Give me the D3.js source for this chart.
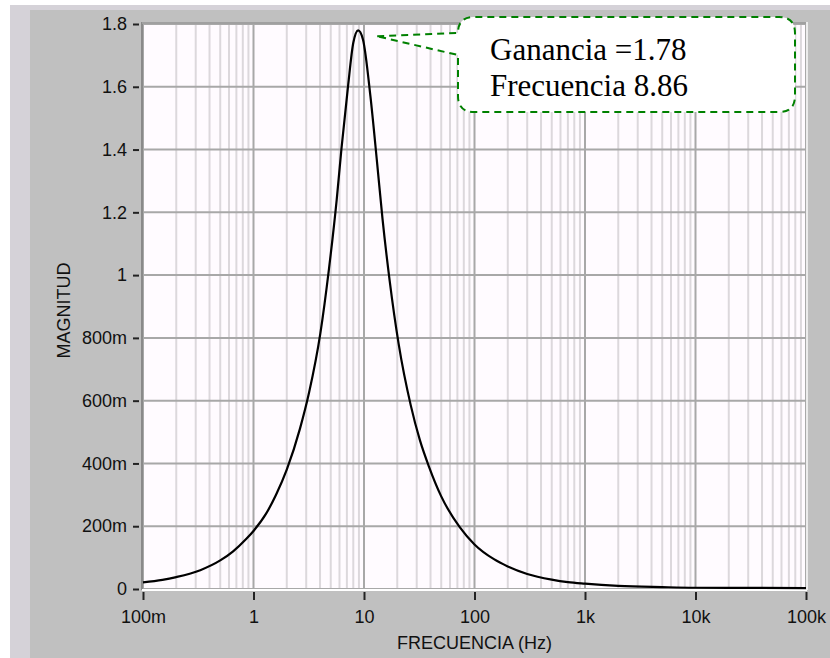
<!DOCTYPE html>
<html>
<head>
<meta charset="utf-8">
<script src="https://cdn.jsdelivr.net/npm/d3@7"></script>
<style>
html,body{margin:0;padding:0;background:#ffffff;}
svg{display:block;}
</style>
</head>
<body>
<svg id="chart" width="830" height="658"></svg>
<script>
// ---- data ----
const freqHz = [0.1,0.15,0.2,0.33,0.5,0.654,0.862,1.0,1.3,1.6,2.0,2.63,3.18,4.03,4.82,5.66,6.24,7.16,8.0,8.86,9.8,11.43,13.12,14.7,17.1,20.6,26.5,32,38.7,50,73.5,100,150,200,300,500,700,1000,2000,5000,10000,100000];
const magnitude = [0.021,0.029,0.038,0.060,0.091,0.12,0.16,0.185,0.24,0.30,0.38,0.51,0.625,0.815,1.02,1.24,1.40,1.60,1.74,1.78,1.75,1.57,1.36,1.18,0.98,0.78,0.585,0.475,0.39,0.295,0.197,0.142,0.095,0.072,0.048,0.030,0.022,0.017,0.010,0.006,0.004,0.003];
const xTickValues = [0.1,1,10,100,1000,10000,100000];
const xTickLabels = ["100m","1","10","100","1k","10k","100k"];
const yTickValues = [0,0.2,0.4,0.6,0.8,1.0,1.2,1.4,1.6,1.8];
const yTickLabels = ["0","200m","400m","600m","800m","1","1.2","1.4","1.6","1.8"];
const xTitle = "FRECUENCIA (Hz)";
const yTitle = "MAGNITUD";
const noteLines = ["Ganancia =1.78","Frecuencia 8.86"];
const peakFreq = 8.86, peakMag = 1.78;

(function(){
const svg = d3.select("#chart");
const W = 830, H = 658;
const pL = 143, pR = 806, pT = 24, pB = 589;

// frame / panel
svg.append("rect").attr("x",0).attr("y",0).attr("width",W).attr("height",H).attr("fill","#ffffff");
svg.append("rect").attr("x",10).attr("y",5).attr("width",W-10).attr("height",H-5).attr("fill","#d5d2d8");
svg.append("rect").attr("x",30).attr("y",10).attr("width",W-30).attr("height",H-10).attr("fill","#c0c0c0");

const x = d3.scaleLog().domain([0.1,100000]).range([pL,pR]);
const y = d3.scaleLinear().domain([0,1.8]).range([pB,pT]);

// plot background
svg.append("rect").attr("x",pL).attr("y",pT).attr("width",pR-pL).attr("height",pB-pT)
  .attr("fill","#fffbff");

// minor vertical grid
const minor = [];
for (let d=-1; d<5; d++) for (let k=2; k<=9; k++) minor.push(k*Math.pow(10,d));
svg.append("g").selectAll("line").data(minor).join("line")
  .attr("x1",d=>x(d)).attr("x2",d=>x(d)).attr("y1",pT).attr("y2",pB)
  .attr("stroke","#dcd8dc").attr("stroke-width",2);
// major vertical grid
svg.append("g").selectAll("line").data(xTickValues).join("line")
  .attr("x1",d=>x(d)).attr("x2",d=>x(d)).attr("y1",pT).attr("y2",pB)
  .attr("stroke","#a8a8a8").attr("stroke-width",2);
// horizontal grid
svg.append("g").selectAll("line").data(yTickValues).join("line")
  .attr("x1",pL).attr("x2",pR).attr("y1",d=>y(d)).attr("y2",d=>y(d))
  .attr("stroke","#a8a8a8").attr("stroke-width",2);

// plot border
svg.append("line").attr("x1",pL-1).attr("x2",pL-1).attr("y1",pT-2).attr("y2",pB+1).attr("stroke","#8a8a8a").attr("stroke-width",2);
svg.append("line").attr("x1",pL-1).attr("x2",pR+1).attr("y1",pT-1).attr("y2",pT-1).attr("stroke","#a0a0a0").attr("stroke-width",2);
svg.append("line").attr("x1",pL-1).attr("x2",pR+1).attr("y1",pB+1).attr("y2",pB+1).attr("stroke","#ffffff").attr("stroke-width",2);
svg.append("line").attr("x1",pR+1).attr("x2",pR+1).attr("y1",pT-2).attr("y2",pB+1).attr("stroke","#ececec").attr("stroke-width",2);

// curve
const line = d3.line().x((d,i)=>x(freqHz[i])).y((d,i)=>y(magnitude[i])).curve(d3.curveMonotoneX);
svg.append("path").datum(magnitude).attr("d",line)
  .attr("fill","none").attr("stroke","#000").attr("stroke-width",2.2);

const font = "'Liberation Sans', Arial, sans-serif";

// y axis
const yAxis = d3.axisLeft(y).tickValues(yTickValues).tickFormat((d,i)=>yTickLabels[i]).tickSize(6).tickSizeOuter(0).tickPadding(6);
const gy = svg.append("g").attr("transform",`translate(${pL-4},0)`).call(yAxis);
gy.select(".domain").remove();
gy.selectAll(".tick line").attr("stroke","#222").attr("stroke-width",2);
gy.selectAll(".tick text").attr("font-family",font).attr("font-size",18).attr("fill","#111");

// x axis
const xAxis = d3.axisBottom(x).tickValues(xTickValues).tickFormat((d,i)=>xTickLabels[i]).tickSize(8).tickSizeOuter(0);
const gx = svg.append("g").attr("transform",`translate(0,${pB+3})`).call(xAxis);
gx.select(".domain").remove();
gx.selectAll(".tick line").attr("stroke","#222").attr("stroke-width",2);
gx.selectAll(".tick text").attr("font-family",font).attr("font-size",18).attr("fill","#111")
  .attr("y",31).attr("dy",0);

// titles
svg.append("text").attr("x",(pL+pR)/2).attr("y",649).attr("text-anchor","middle")
  .attr("font-family",font).attr("font-size",18).attr("fill","#111").text(xTitle);
svg.append("text").attr("transform",`translate(70,${(pT+pB)/2+4}) rotate(-90)`).attr("text-anchor","middle")
  .attr("font-family",font).attr("font-size",18).attr("fill","#111").text(yTitle);

// callout
const tipX = x(peakFreq)+19, tipY = y(peakMag)+6;
const bx0 = 458, bx1 = 795, by0 = 17, by1 = 112, r = 16;
const p = d3.path();
p.moveTo(tipX, tipY);
p.lineTo(bx0, by0+16);
p.quadraticCurveTo(bx0, by0, bx0+r, by0);
p.lineTo(bx1-r, by0);
p.quadraticCurveTo(bx1, by0, bx1, by0+r);
p.lineTo(bx1, by1-r);
p.quadraticCurveTo(bx1, by1, bx1-r, by1);
p.lineTo(bx0+r, by1);
p.quadraticCurveTo(bx0, by1, bx0, by1-r);
p.lineTo(bx0, by0+38);
p.closePath();
svg.append("path").attr("d",p.toString()).attr("fill","#ffffff")
  .attr("stroke","#008000").attr("stroke-width",2).attr("stroke-dasharray","7,5");

svg.append("g").selectAll("text").data(noteLines).join("text")
  .attr("x",490).attr("y",(d,i)=>60+i*36)
  .attr("font-family","'Liberation Serif','Times New Roman',serif").attr("font-size",31).attr("fill","#000")
  .text(d=>d);
})();
</script>
</body>
</html>
